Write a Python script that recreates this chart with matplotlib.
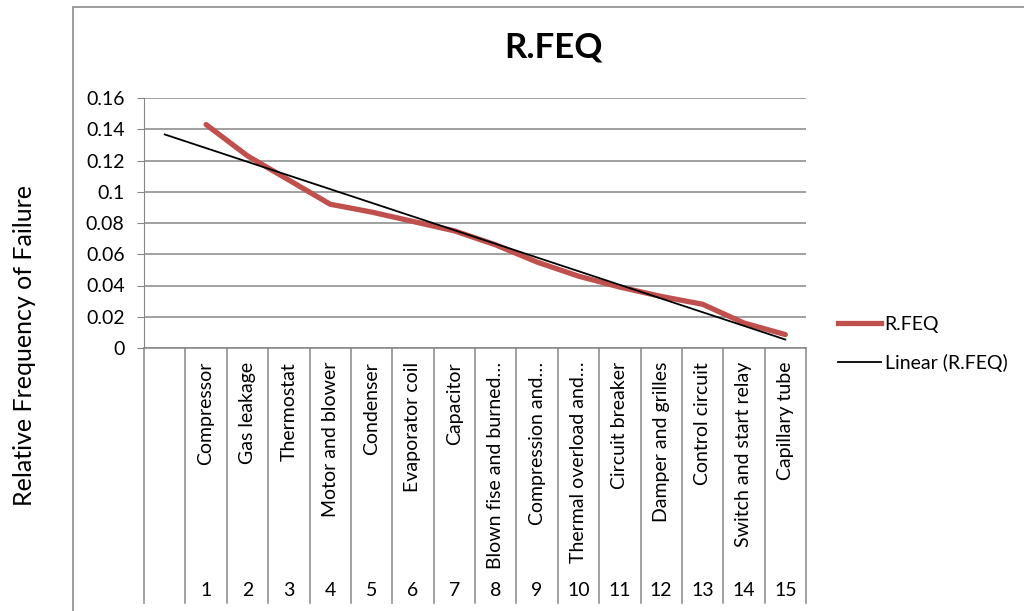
import numpy as np
import matplotlib.pyplot as plt
from matplotlib.lines import Line2D
from matplotlib.patches import Rectangle
import matplotlib.transforms as mtransforms

plt.rcParams['font.family'] = ['Lato', 'DejaVu Sans']

# relative frequency of each failure cause
components = ['Compressor', 'Gas leakage', 'Thermostat', 'Motor and blower',
              'Condenser', 'Evaporator coil', 'Capacitor',
              'Blown fise and burned\u2026', 'Compression and\u2026',
              'Thermal overload and\u2026', 'Circuit breaker',
              'Damper and grilles', 'Control circuit',
              'Switch and start relay', 'Capillary tube']
ranks = list(range(1, 16))
rfeq = [0.143, 0.123, 0.1075, 0.092, 0.087, 0.081, 0.075, 0.066,
        0.055, 0.046, 0.039, 0.033, 0.028, 0.016, 0.0086]

red = '#C0504D'
grid_grey = '#868686'

fig = plt.figure(figsize=(10.24, 6.11), dpi=100)
ax = fig.add_axes([144 / 1024, 1 - 348 / 611, 662 / 1024, 250 / 611])

# outer chart frame
fig.patches.append(Rectangle((73 / 1024, -0.1), 1.0, 0.1 + 1 - 7 / 611,
                             transform=fig.transFigure, fill=False,
                             edgecolor='#8c8c8c', linewidth=1.2))

ax.plot(ranks, rfeq, color=red, linewidth=3.8, solid_capstyle='round',
        label='R.FEQ', zorder=3)

# linear trendline, extended back over the blank first category
slope, icpt = np.polyfit(ranks, rfeq, 1)
tx = np.array([0, 15])
ax.plot(tx, slope * tx + icpt, color='black', linewidth=1.3,
        label='Linear (R.FEQ)', zorder=4)

ax.set_xlim(-0.5, 15.5)
ax.set_ylim(0, 0.16)
ax.set_yticks(np.arange(0, 0.161, 0.02))
ax.set_yticklabels(['0', '0.02', '0.04', '0.06', '0.08', '0.1',
                    '0.12', '0.14', '0.16'])
ax.yaxis.grid(True, color=grid_grey, linewidth=1.1)
ax.set_axisbelow(True)
for s in ['top', 'right']:
    ax.spines[s].set_visible(False)
ax.spines['left'].set_color(grid_grey)
ax.spines['bottom'].set_color(grid_grey)
ax.spines['bottom'].set_linewidth(1.1)
ax.tick_params(axis='y', length=5, color=grid_grey, labelsize=14, pad=9)

ax.set_xticks(range(16))
ax.set_xticklabels([''] + components, rotation=90, fontsize=14)
ax.tick_params(axis='x', length=0, pad=10)

# second category level and separators
trans = mtransforms.blended_transform_factory(ax.transData, ax.transAxes)
for b in np.arange(-0.5, 16, 1):
    ax.plot([b, b], [0, -1.02], color=grid_grey, linewidth=1.1,
            transform=trans, clip_on=False)
for r in ranks:
    ax.text(r, -0.968, str(r), transform=trans, ha='center', va='center',
            fontsize=14)

fig.text(553 / 1024, 1 - 48 / 611, 'R.FEQ', ha='center', va='center',
         fontsize=25, fontweight='bold')
fig.text(25 / 1024, 1 - 345 / 611, 'Relative Frequency of Failure',
         rotation=90, ha='center', va='center', fontsize=18)

handles = [Line2D([], [], color=red, linewidth=3.8),
           Line2D([], [], color='black', linewidth=1.3)]
fig.legend(handles, ['R.FEQ', 'Linear (R.FEQ)'], loc='upper left',
           bbox_to_anchor=(838 / 1024, 1 - 316 / 611), frameon=False,
           fontsize=14, handlelength=2.2, handletextpad=0.2,
           borderpad=0, borderaxespad=0, labelspacing=1.08)

fig.savefig('out.png', dpi=100)
